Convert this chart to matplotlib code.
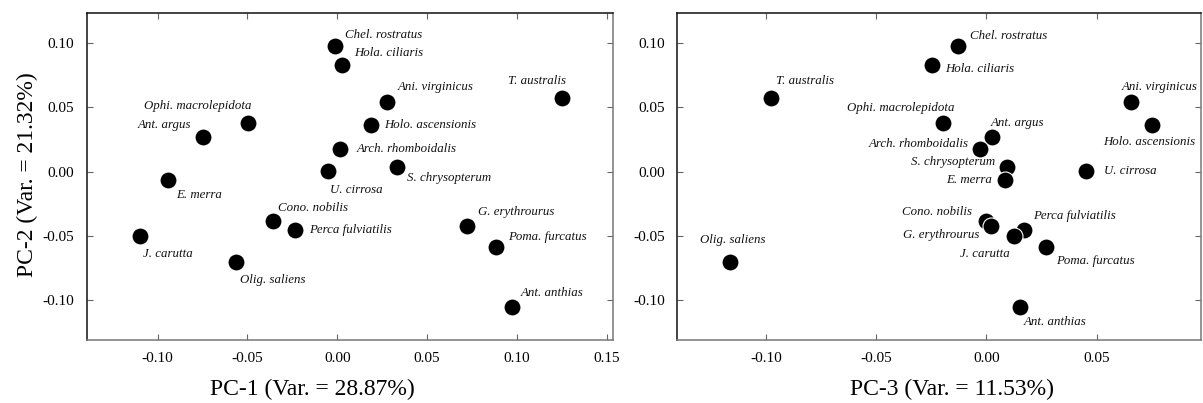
import matplotlib
matplotlib.use("Agg")
import matplotlib.pyplot as plt

species = ["T. australis", "Olig. saliens", "Chel. rostratus", "Hola. ciliaris",
           "Ophi. macrolepidota", "Ant. argus", "Arch. rhomboidalis", "S. chrysopterum",
           "E. merra", "U. cirrosa", "Ani. virginicus", "Holo. ascensionis",
           "Cono. nobilis", "G. erythrourus", "Perca fulviatilis", "J. carutta",
           "Poma. furcatus", "Ant. anthias"]
pc1 = [0.1252, -0.0566, -0.0010, 0.0026, -0.0497, -0.0745, 0.0015, 0.0333,
       -0.0945, -0.0052, 0.0279, 0.0186, -0.0358, 0.0722, -0.0234, -0.1099,
       0.0882, 0.0973]
pc2 = [0.0577, -0.0706, 0.0979, 0.0834, 0.0376, 0.0271, 0.0173, 0.0033,
       -0.0061, 0.0003, 0.0540, 0.0361, -0.0383, -0.0426, -0.0455, -0.0504,
       -0.0589, -0.1050]
pc3 = [-0.0976, -0.1160, -0.0130, -0.0248, -0.0198, 0.0026, -0.0030, 0.0094,
       0.0086, 0.0452, 0.0656, 0.0749, 0.0000, 0.0023, 0.0172, 0.0126,
       0.0272, 0.0154]

xlabel1 = "PC-1 (Var. = 28.87%)"
xlabel2 = "PC-3 (Var. = 11.53%)"
ylabel = "PC-2 (Var. = 21.32%)"
xticks1 = [-0.10, -0.05, 0.00, 0.05, 0.10, 0.15]
xticks2 = [-0.10, -0.05, 0.00, 0.05]
yticks = [-0.10, -0.05, 0.00, 0.05, 0.10]

# label offsets (pixels, label centre relative to point; +y down)
off1 = {"T. australis": (-25, -16.6), "Olig. saliens": (37.5, 17.4),
        "Chel. rostratus": (48, -10.6), "Hola. ciliaris": (47, -12),
        "Ophi. macrolepidota": (-50, -17.6), "Ant. argus": (-38.6, -12.3),
        "Arch. rhomboidalis": (66.5, 0), "S. chrysopterum": (52, 11),
        "E. merra": (32, 15), "U. cirrosa": (28.3, 19),
        "Ani. virginicus": (48, -15), "Holo. ascensionis": (60, 0),
        "Cono. nobilis": (40.5, -13.3), "G. erythrourus": (48.8, -14),
        "Perca fulviatilis": (55.5, 0), "J. carutta": (28.3, 18),
        "Poma. furcatus": (52, -10.3), "Ant. anthias": (40, -13.7)}
off2 = {"T. australis": (34.3, -16.6), "Olig. saliens": (2.2, -22.4),
        "Chel. rostratus": (51.4, -10), "Hola. ciliaris": (48.4, 4.7),
        "Ophi. macrolepidota": (-41.5, -15.3), "Ant. argus": (25.8, -13.7),
        "Arch. rhomboidalis": (-61.3, -5.7), "S. chrysopterum": (-53.7, -5),
        "E. merra": (-36.7, 0), "U. cirrosa": (43.8, 0),
        "Ani. virginicus": (28.8, -15.4), "Holo. ascensionis": (-2.1, 16.6),
        "Cono. nobilis": (-49.7, -8.7), "G. erythrourus": (-50, 8.4),
        "Perca fulviatilis": (50.2, -14), "J. carutta": (-29.5, 17.3),
        "Poma. furcatus": (49, 14), "Ant. anthias": (34.5, 15.3)}

plt.rcParams['font.family'] = ['Liberation Serif', 'DejaVu Serif']
plt.rcParams['axes.unicode_minus'] = False

fig = plt.figure(figsize=(12.03, 4.03), dpi=100)
H = 403.0
W = 1203.0
ax1 = fig.add_axes([86.7 / W, (H - 340) / H, (613 - 86.7) / W, (340 - 13) / H])
ax2 = fig.add_axes([677.3 / W, (H - 340) / H, (1201 - 677.3) / W, (340 - 13) / H])


def style(ax, xticks, xlim):
    ax.set_xlim(*xlim)
    ax.set_ylim(-0.131, 0.1235)
    ax.set_xticks(xticks)
    ax.set_yticks(yticks)
    ax.set_xticklabels([f"{t:.2f}" for t in xticks])
    ax.set_yticklabels([f"{t:.2f}" for t in yticks])
    ax.tick_params(direction='in', length=4, width=0.8, colors='#666666',
                   labelcolor='black', labelsize=11, top=True, right=True, pad=9)
    for s in ['top', 'left']:
        ax.spines[s].set_color('#111111')
        ax.spines[s].set_linewidth(1.1)
    for s in ['bottom', 'right']:
        ax.spines[s].set_color('#777777')
        ax.spines[s].set_linewidth(1.1)


def draw(ax, xs, ys, offs):
    ax.scatter(xs, ys, s=150, c='black', edgecolors='white', linewidths=0.8, zorder=3)
    for name, x, y in zip(species, xs, ys):
        dx, dy = offs[name]
        ax.annotate(name, (x, y), xytext=(dx * 0.72, -dy * 0.72),
                    textcoords='offset points', ha='center', va='center',
                    fontsize=9.3, style='italic', color='#111111')


draw(ax1, pc1, pc2, off1)
draw(ax2, pc3, pc2, off2)
style(ax1, xticks1, (-0.1395, 0.1535))
style(ax2, xticks2, (-0.1401, 0.0973))

fig.text(312.7 / W, 1 - 389 / H, xlabel1, ha='center', va='center', fontsize=17)
fig.text(951.7 / W, 1 - 389 / H, xlabel2, ha='center', va='center', fontsize=17)
fig.text(27 / W, 1 - 175 / H, ylabel, ha='center', va='center', fontsize=17, rotation=90)

fig.savefig("out.png", dpi=100)
